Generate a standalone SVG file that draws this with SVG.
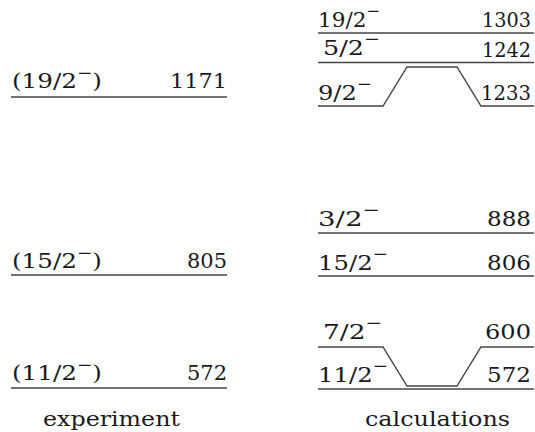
<svg xmlns="http://www.w3.org/2000/svg" width="535" height="432" viewBox="0 0 535 432">
<style>
text{font-family:"DejaVu Serif","Liberation Serif",serif;font-size:20px;fill:#1a1a1a}
.cap{font-size:20px}
.sup{font-size:15px}
.lv{stroke:#444;stroke-width:1.4;fill:none}
</style>
<rect width="535" height="432" fill="#fff"/>
<g id="exp-1171">
<line class="lv" x1="11" y1="97" x2="227" y2="97"/>
<text x="12" y="88" textLength="90" lengthAdjust="spacingAndGlyphs">(19/2<tspan class="sup" dy="-10">−</tspan><tspan dy="10">)</tspan></text>
<text x="170" y="88" textLength="57" lengthAdjust="spacingAndGlyphs">1171</text>
</g>
<g id="exp-805">
<line class="lv" x1="11" y1="275" x2="227" y2="275"/>
<text x="12" y="268" textLength="90" lengthAdjust="spacingAndGlyphs">(15/2<tspan class="sup" dy="-10">−</tspan><tspan dy="10">)</tspan></text>
<text x="187" y="268" textLength="40" lengthAdjust="spacingAndGlyphs">805</text>
</g>
<g id="exp-572">
<line class="lv" x1="11" y1="388" x2="227" y2="388"/>
<text x="12" y="380" textLength="90" lengthAdjust="spacingAndGlyphs">(11/2<tspan class="sup" dy="-10">−</tspan><tspan dy="10">)</tspan></text>
<text x="187" y="380" textLength="40" lengthAdjust="spacingAndGlyphs">572</text>
</g>
<g id="calc-1303">
<line class="lv" x1="318" y1="33" x2="534" y2="33"/>
<text x="318" y="27" textLength="62" lengthAdjust="spacingAndGlyphs">19/2<tspan class="sup" dy="-11">−</tspan></text>
<text x="482" y="27" textLength="49" lengthAdjust="spacingAndGlyphs">1303</text>
</g>
<g id="calc-1242">
<line class="lv" x1="318" y1="62.5" x2="534" y2="62.5"/>
<text x="323" y="55" textLength="57" lengthAdjust="spacingAndGlyphs">5/2<tspan class="sup" dy="-11">−</tspan></text>
<text x="482" y="57" textLength="49" lengthAdjust="spacingAndGlyphs">1242</text>
</g>
<g id="calc-1233">
<polyline class="lv" points="318,106 383,106 407,67 457,67 481,106 534,106"/>
<text x="318" y="100" textLength="54" lengthAdjust="spacingAndGlyphs">9/2<tspan class="sup" dy="-11">−</tspan></text>
<text x="481" y="100" textLength="50" lengthAdjust="spacingAndGlyphs">1233</text>
</g>
<g id="calc-888">
<line class="lv" x1="318" y1="233" x2="534" y2="233"/>
<text x="318" y="226" textLength="62" lengthAdjust="spacingAndGlyphs">3/2<tspan class="sup" dy="-11">−</tspan></text>
<text x="487" y="226" textLength="44" lengthAdjust="spacingAndGlyphs">888</text>
</g>
<g id="calc-806">
<line class="lv" x1="318" y1="276" x2="534" y2="276"/>
<text x="318" y="270" textLength="70" lengthAdjust="spacingAndGlyphs">15/2<tspan class="sup" dy="-11">−</tspan></text>
<text x="487" y="270" textLength="44" lengthAdjust="spacingAndGlyphs">806</text>
</g>
<g id="calc-600">
<polyline class="lv" points="318,347 383,347 407,386 457,386 481,347 534,347"/>
<text x="323" y="339" textLength="59" lengthAdjust="spacingAndGlyphs">7/2<tspan class="sup" dy="-11">−</tspan></text>
<text x="485" y="339" textLength="46" lengthAdjust="spacingAndGlyphs">600</text>
</g>
<g id="calc-572">
<line class="lv" x1="318" y1="389" x2="534" y2="389"/>
<text x="318" y="382" textLength="70" lengthAdjust="spacingAndGlyphs">11/2<tspan class="sup" dy="-11">−</tspan></text>
<text x="487" y="382" textLength="44" lengthAdjust="spacingAndGlyphs">572</text>
</g>
<g id="connectors"></g>
<g id="captions">
<text class="cap" x="43" y="426" textLength="137" lengthAdjust="spacingAndGlyphs">experiment</text>
<text class="cap" x="365" y="426" textLength="145" lengthAdjust="spacingAndGlyphs">calculations</text>
</g>
</svg>
